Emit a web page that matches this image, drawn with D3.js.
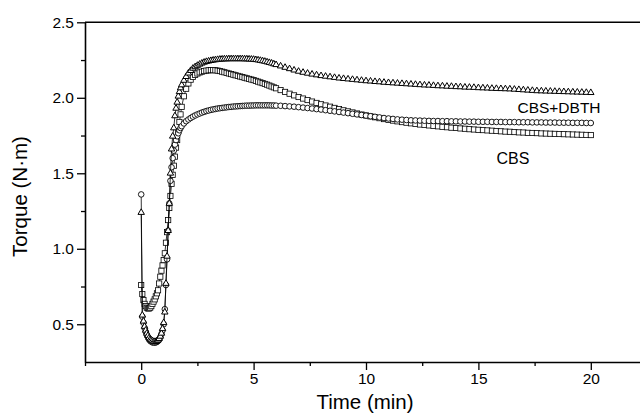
<!DOCTYPE html>
<html><head><meta charset="utf-8">
<script src="https://cdn.jsdelivr.net/npm/d3@7"></script>
<style>
body{margin:0;background:#fff}
svg{display:block}
text{font-family:"Liberation Sans",Arial,Helvetica,sans-serif;fill:#000}
</style>
</head><body>
<svg id="chart" width="640" height="416"></svg>
<script>
// ---- data ----
const timeEarly = [0,0.05,0.1,0.15,0.2,0.25,0.3,0.35,0.4,0.45,
  0.5,0.55,0.6,0.65,0.7,0.75,0.8,0.85,0.9,0.95,
  1.0,1.05,1.1,1.15,1.2,1.25,1.3,1.35,1.4,1.45,
  1.5,1.55,1.6,1.65,1.7,1.75,1.8];
const timeMid = [1.9,2.0,2.1,2.2,2.3,2.4,2.5,2.6,2.7,2.8,
  2.9,3.0,3.1,3.2,3.3,3.4,3.5,3.6,3.7,3.8,
  3.9,4.0,4.1,4.2,4.3,4.4,4.5,4.6,4.7,4.8,
  4.9,5.0,5.1,5.2,5.3,5.4,5.5,5.6,5.7,5.8,
  5.9,6.0];
const timeLate = [6.2,6.4,6.6,6.8,7.0,7.2,7.4,7.6,7.8,8.0,
  8.2,8.4,8.6,8.8,9.0,9.2,9.4,9.6,9.8,10.0,
  10.2,10.4,10.6,10.8,11.0,11.2,11.4,11.6,11.8,12.0,
  12.2,12.4,12.6,12.8,13.0,13.2,13.4,13.6,13.8,14.0,
  14.2,14.4,14.6,14.8,15.0,15.2,15.4,15.6,15.8,16.0,
  16.2,16.4,16.6,16.8,17.0,17.2,17.4,17.6,17.8,18.0,
  18.2,18.4,18.6,18.8,19.0,19.2,19.4,19.6,19.8,20.0];

// triangles (top curve, CBS+DBTH)
const torqueTriangle = [
  1.24,0.56,0.52,0.485,0.46,0.44,0.425,0.41,0.40,0.395,
  0.39,0.385,0.385,0.385,0.39,0.395,0.405,0.42,0.44,0.47,
  0.51,0.58,0.77,0.95,1.12,1.30,1.50,1.66,1.745,1.80,
  1.88,1.93,1.97,2.01,2.04,2.065,2.085,
  2.115,2.14,2.163,2.18,2.195,2.205,2.214,2.222,2.229,2.235,
  2.24,2.243,2.246,2.249,2.251,2.253,2.255,2.256,2.257,2.257,
  2.258,2.258,2.258,2.258,2.258,2.258,2.258,2.257,2.257,2.256,
  2.255,2.254,2.252,2.25,2.247,2.244,2.241,2.237,2.233,2.229,
  2.224,2.219,
  2.21,2.201,2.192,2.183,2.175,2.168,2.162,2.156,2.151,2.146,
  2.142,2.138,2.134,2.13,2.127,2.124,2.121,2.118,2.115,2.112,
  2.11,2.107,2.105,2.102,2.1,2.098,2.096,2.094,2.092,2.09,
  2.088,2.086,2.084,2.083,2.081,2.079,2.078,2.076,2.075,2.073,
  2.072,2.07,2.069,2.068,2.066,2.065,2.064,2.062,2.061,2.06,
  2.059,2.058,2.056,2.054,2.052,2.05,2.048,2.046,2.045,2.044,
  2.043,2.042,2.041,2.04,2.039,2.038,2.037,2.036,2.035,2.034];

// circles (middle curve at the end)
const torqueCircle = [
  1.36,0.55,0.51,0.475,0.45,0.43,0.415,0.40,0.39,0.385,
  0.38,0.378,0.378,0.38,0.383,0.39,0.40,0.415,0.435,0.46,
  0.50,0.60,0.76,0.93,1.12,1.30,1.45,1.54,1.60,1.65,
  1.69,1.72,1.745,1.765,1.785,1.80,1.812,
  1.83,1.845,1.856,1.866,1.875,1.883,1.89,1.896,1.902,1.907,
  1.912,1.916,1.92,1.923,1.926,1.929,1.931,1.933,1.935,1.937,
  1.939,1.94,1.942,1.943,1.944,1.945,1.946,1.947,1.948,1.948,
  1.949,1.949,1.95,1.95,1.95,1.95,1.95,1.95,1.95,1.949,
  1.949,1.948,
  1.947,1.945,1.943,1.941,1.938,1.935,1.932,1.929,1.925,1.922,
  1.918,1.914,1.91,1.906,1.902,1.898,1.894,1.89,1.886,1.882,
  1.878,1.874,1.87,1.866,1.863,1.86,1.857,1.855,1.853,1.851,
  1.85,1.849,1.848,1.847,1.846,1.846,1.845,1.845,1.844,1.844,
  1.843,1.843,1.842,1.842,1.841,1.841,1.841,1.84,1.84,1.84,
  1.839,1.839,1.839,1.838,1.838,1.838,1.837,1.837,1.837,1.836,
  1.836,1.836,1.835,1.835,1.835,1.834,1.834,1.834,1.833,1.833];

// squares (bottom curve at the end, CBS)
const torqueSquare = [
  0.76,0.70,0.66,0.635,0.62,0.61,0.605,0.605,0.61,0.62,
  0.635,0.65,0.665,0.685,0.705,0.725,0.77,0.815,0.855,0.89,
  0.925,0.97,1.04,1.11,1.19,1.27,1.35,1.43,1.49,1.55,
  1.61,1.67,1.72,1.78,1.84,1.89,1.94,
  2.01,2.06,2.095,2.12,2.138,2.151,2.161,2.168,2.173,2.177,
  2.18,2.182,2.183,2.183,2.182,2.18,2.177,2.173,2.169,2.165,
  2.161,2.157,2.153,2.149,2.145,2.141,2.137,2.133,2.129,2.125,
  2.121,2.117,2.112,2.107,2.102,2.097,2.092,2.087,2.081,2.075,
  2.069,2.063,
  2.051,2.039,2.027,2.016,2.005,1.995,1.985,1.975,1.966,1.957,
  1.949,1.941,1.933,1.925,1.917,1.91,1.903,1.896,1.889,1.883,
  1.877,1.871,1.865,1.859,1.854,1.849,1.844,1.839,1.835,1.831,
  1.827,1.823,1.82,1.817,1.814,1.811,1.808,1.805,1.802,1.8,
  1.797,1.795,1.792,1.79,1.788,1.786,1.784,1.782,1.78,1.778,
  1.776,1.775,1.773,1.771,1.77,1.768,1.767,1.766,1.764,1.763,
  1.762,1.761,1.76,1.759,1.758,1.757,1.756,1.755,1.754,1.753];

const yMajorTicks = [0.5,1.0,1.5,2.0,2.5];
const yMinorTicks = [0.75,1.25,1.75,2.25];
const xMajorTicks = [0,5,10,15,20];
const xMinorTicks = [-2.5,2.5,7.5,12.5,17.5,22.5];
const labelTop = "CBS+DBTH";
const labelBottom = "CBS";
const xTitle = "Time (min)";
const yTitle = "Torque (N·m)";

// ---- drawing ----
const times = timeEarly.concat(timeMid, timeLate);
const svg = d3.select("#chart");
const plotLeft = 85, plotRight = 647, plotTop = 22.3, plotBottom = 362;
const x = d3.scaleLinear().domain([-2.5, 22.5]).range([plotLeft, plotRight]);
const y = d3.scaleLinear().domain([0.25, 2.5]).range([plotBottom, plotTop]);

const series = [
  {name: "square", values: torqueSquare, sw: 0.8},
  {name: "circle", values: torqueCircle, sw: 0.9},
  {name: "triangle", values: torqueTriangle, sw: 1.0}
];

const lineGen = d3.line().x(d => x(d[0])).y(d => y(d[1]));
const marks = svg.append("g");
const triPath = d3.symbol().type(d3.symbolTriangle).size(18)();

series.forEach(s => {
  const pts = times.map((t, i) => [t, s.values[i]]);
  marks.append("path").attr("d", lineGen(pts))
    .attr("fill", "none").attr("stroke", "#000").attr("stroke-width", 0.8);
  const g = marks.append("g");
  if (s.name === "square") {
    g.selectAll("rect").data(pts).join("rect")
      .attr("x", d => x(d[0]) - 2.6).attr("y", d => y(d[1]) - 2.6)
      .attr("width", 5.2).attr("height", 5.2)
      .attr("fill", "#fff").attr("stroke", "#000").attr("stroke-width", s.sw);
  } else if (s.name === "circle") {
    g.selectAll("circle").data(pts).join("circle")
      .attr("cx", d => x(d[0])).attr("cy", d => y(d[1])).attr("r", 2.8)
      .attr("fill", "#fff").attr("stroke", "#000").attr("stroke-width", s.sw);
  } else {
    g.selectAll("path").data(pts).join("path")
      .attr("d", triPath)
      .attr("transform", d => `translate(${x(d[0])},${y(d[1])})`)
      .attr("fill", "#fff").attr("stroke", "#000").attr("stroke-width", s.sw);
  }
});

// axes
const fontTick = 15.5;
const yAxis = svg.append("g").attr("transform", `translate(${plotLeft},0)`)
  .call(d3.axisLeft(y).tickValues(yMajorTicks).tickSize(8).tickSizeOuter(0)
    .tickPadding(3).tickFormat(d3.format(".1f")));
const yMinor = svg.append("g").attr("transform", `translate(${plotLeft},0)`)
  .call(d3.axisLeft(y).tickValues(yMinorTicks).tickSize(4).tickFormat(""));
yMinor.select(".domain").remove();

const xAxis = svg.append("g").attr("transform", `translate(0,${plotBottom})`)
  .call(d3.axisBottom(x).tickValues(xMajorTicks).tickSize(8).tickSizeOuter(0)
    .tickPadding(3).tickFormat(d3.format("d")));
const xMinor = svg.append("g").attr("transform", `translate(0,${plotBottom})`)
  .call(d3.axisBottom(x).tickValues(xMinorTicks).tickSize(4).tickFormat(""));
xMinor.select(".domain").remove();

[yAxis, xAxis].forEach(a => {
  a.select(".domain").attr("stroke-width", 1.6);
  a.selectAll("text").attr("font-size", fontTick)
    .attr("font-family", '"Liberation Sans",Arial,sans-serif').attr("fill", "#000");
});
svg.selectAll(".tick line").attr("stroke-width", 1.3);

// top frame line
svg.append("line").attr("x1", plotLeft).attr("x2", plotRight)
  .attr("y1", plotTop).attr("y2", plotTop).attr("stroke", "#000").attr("stroke-width", 1.6);

// curve labels
svg.append("text").attr("x", 559).attr("y", 113).attr("text-anchor", "middle")
  .attr("font-size", 15.5).text(labelTop);
svg.append("text").attr("x", 513).attr("y", 164).attr("text-anchor", "middle")
  .attr("font-size", 16).text(labelBottom);

// axis titles
svg.append("text").attr("x", 365).attr("y", 409).attr("text-anchor", "middle")
  .attr("font-size", 20.5).text(xTitle);
svg.append("text").attr("transform", "translate(26.5,196.5) rotate(-90)")
  .attr("text-anchor", "middle").attr("font-size", 20.5).text(yTitle);
</script>
</body></html>
